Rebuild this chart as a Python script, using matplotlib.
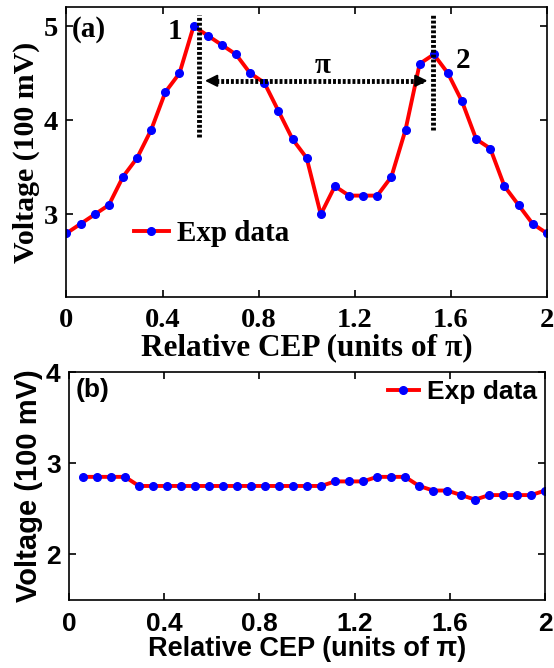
import numpy as np
import matplotlib.pyplot as plt

# relative CEP grid (units of pi)
cep = np.linspace(0, 2, 35)

# (a) voltage, 100 mV
volt_a = [2.8, 2.9, 3.0, 3.1, 3.4, 3.6, 3.9, 4.3, 4.5, 5.0, 4.9, 4.8, 4.7, 4.5,
          4.4, 4.1, 3.8, 3.6, 3.0, 3.3, 3.2, 3.2, 3.2, 3.4, 3.9, 4.6, 4.7, 4.5,
          4.2, 3.8, 3.7, 3.3, 3.1, 2.9, 2.8]

# (b) voltage, 100 mV (starts at second grid point)
volt_b = [2.85, 2.85, 2.85, 2.85, 2.75, 2.75, 2.75, 2.75, 2.75, 2.75, 2.75,
          2.75, 2.75, 2.75, 2.75, 2.75, 2.75, 2.75, 2.8, 2.8, 2.8, 2.85, 2.85,
          2.85, 2.75, 2.7, 2.7, 2.65, 2.6, 2.65, 2.65, 2.65, 2.65, 2.7]

xticks = [0, 0.4, 0.8, 1.2, 1.6, 2]
xticklabels = ['0', '0.4', '0.8', '1.2', '1.6', '2']

fig = plt.figure(figsize=(5.54, 6.68), dpi=100)

serif = {'family': 'Liberation Serif', 'weight': 'bold'}
sans = {'family': 'Liberation Sans', 'weight': 'bold'}

# ---- panel (a)
ax1 = fig.add_axes([0.120, 0.555, 0.867, 0.434])
ax1.plot(cep, volt_a, '-', color='red', lw=2.8, marker='o', ms=5.5,
         mfc='blue', mec='blue', label='Exp data')
ax1.set_xlim(0, 2)
ax1.set_ylim(2.12, 5.2)
ax1.set_xticks(xticks)
ax1.set_xticklabels(xticklabels)
ax1.set_yticks([3, 4, 5])
ax1.tick_params(direction='in', top=True, right=True, length=5, width=1.2,
                pad=6)
ax1.tick_params(axis='x', pad=8)
for lab in ax1.get_xticklabels() + ax1.get_yticklabels():
    lab.set_fontproperties(serif)
    lab.set_fontsize(20.5)
ax1.set_xlabel('Relative CEP (units of π)', fontdict=serif, fontsize=22.5,
               labelpad=0)
ax1.set_ylabel('Voltage (100 mV)', fontdict=serif, fontsize=21.5, labelpad=3)
for s in ax1.spines.values():
    s.set_linewidth(1.2)

dash = (0, (0.6, 0.4))
ax1.plot([0.551, 0.551], [3.82, 5.12], color='k', lw=3.5, linestyle=dash)
ax1.plot([1.525, 1.525], [3.90, 5.12], color='k', lw=3.5, linestyle=dash)
ax1.plot([0.60, 1.49], [4.42, 4.42], color='k', lw=3.5, linestyle=dash)
ax1.annotate('', xy=(0.565, 4.42), xytext=(0.62, 4.42),
             arrowprops=dict(arrowstyle='-|>', color='k', lw=1.5,
                             mutation_scale=18))
ax1.annotate('', xy=(1.515, 4.42), xytext=(1.46, 4.42),
             arrowprops=dict(arrowstyle='-|>', color='k', lw=1.5,
                             mutation_scale=18))
ax1.text(1.065, 4.58, 'π', fontdict=serif, fontsize=21, ha='center', va='center')
ax1.text(0.45, 4.94, '1', fontdict=serif, fontsize=21, ha='center', va='center')
ax1.text(1.65, 4.64, '2', fontdict=serif, fontsize=21, ha='center', va='center')
ax1.text(0.02, 4.96, '(a)', fontdict=serif, fontsize=21, ha='left', va='center')

ax1.legend(loc='center left', bbox_to_anchor=(0.14, 0.22), frameon=False,
           prop={'family': 'Liberation Serif', 'weight': 'bold', 'size': 21},
           handlelength=1.2, handletextpad=0.3, borderpad=0, borderaxespad=0)

# ---- panel (b)
ax2 = fig.add_axes([0.1245, 0.102, 0.8595, 0.341])
ax2.plot(cep[1:], volt_b, '-', color='red', lw=2.8, marker='o', ms=5.5,
         mfc='blue', mec='blue', label='Exp data')
ax2.set_xlim(0, 2)
ax2.set_ylim(1.5, 4)
ax2.set_xticks(xticks)
ax2.set_xticklabels(xticklabels)
ax2.set_yticks([2, 3, 4])
ax2.tick_params(direction='in', top=True, right=True, length=5, width=1.2,
                pad=6)
ax2.tick_params(axis='x', pad=9)
for lab in ax2.get_xticklabels() + ax2.get_yticklabels():
    lab.set_fontproperties(sans)
    lab.set_fontsize(19)
ax2.set_xlabel('Relative CEP (units of π)', fontdict=sans, fontsize=19.5,
               labelpad=0)
ax2.set_ylabel('Voltage (100 mV)', fontdict=sans, fontsize=21, labelpad=2)
for s in ax2.spines.values():
    s.set_linewidth(1.2)
ax2.text(0.03, 3.8, '(b)', fontdict=sans, fontsize=19, ha='left', va='center')
ax2.legend(loc='upper right', frameon=False,
           prop={'family': 'Liberation Sans', 'weight': 'bold', 'size': 19},
           handlelength=1.2, handletextpad=0.3, borderpad=0.1, borderaxespad=0.2)

fig.savefig('out.png', dpi=100)
